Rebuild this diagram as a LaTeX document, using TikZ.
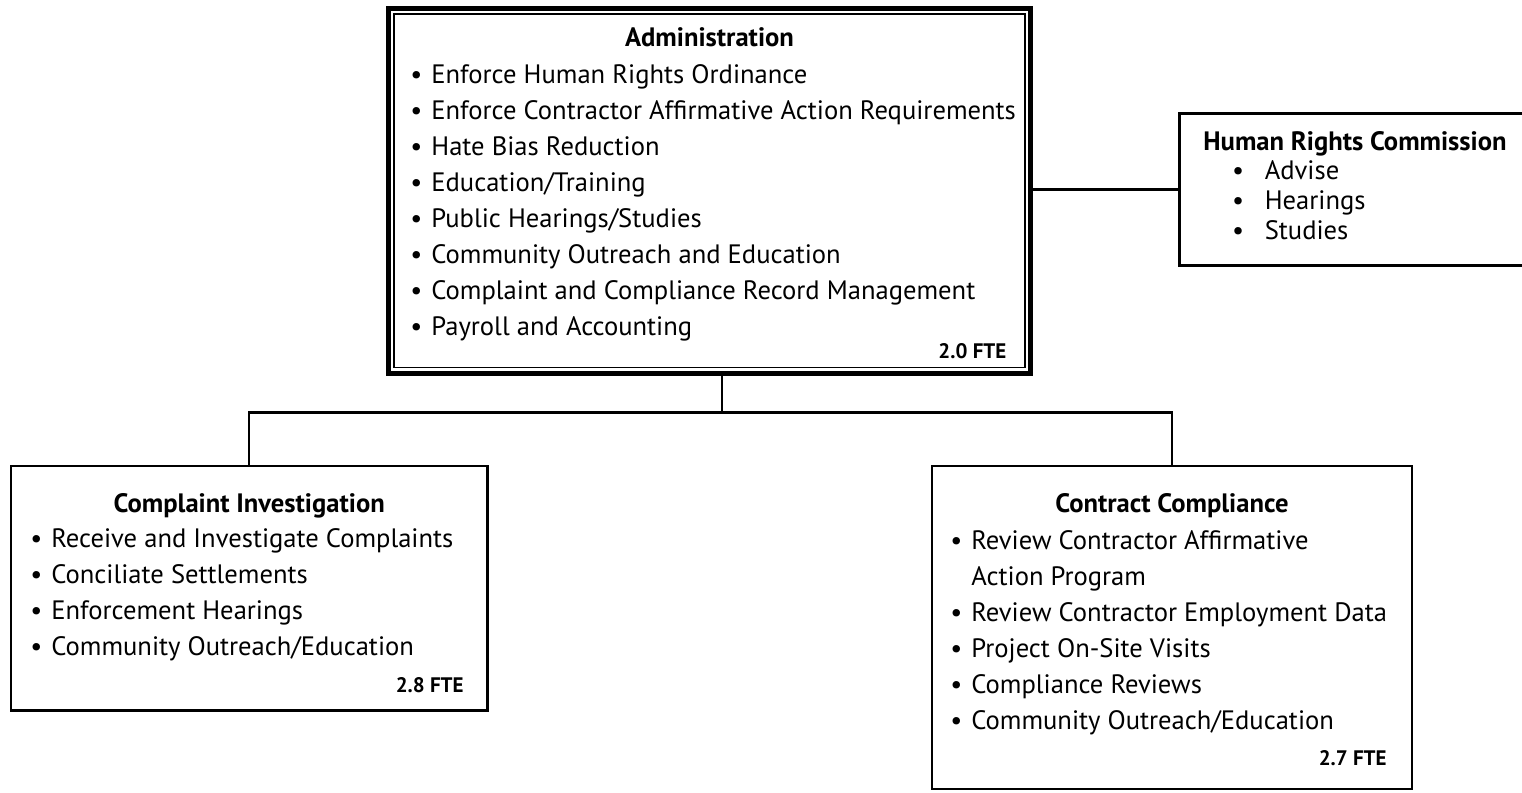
\documentclass[tikz,border=0pt]{standalone}
\usepackage{fontspec}
\setmainfont{PT Sans}

\newcommand\bodyfont{\fontsize{13.3}{18}\selectfont}
\newcommand\ftefont{\fontsize{10.5}{12}\selectfont\bfseries}
\newcommand\bul[1][10.5pt]{\makebox[#1][l]{\textbullet}}

\tikzset{
  unit box/.style = {draw, line width=1.3pt, inner sep=0pt, outer sep=0pt},
  box title/.style = {font=\bodyfont\bfseries, anchor=base, inner sep=0pt},
  box list/.style = {font=\bodyfont, align=left, anchor=base west, inner sep=0pt},
  box fte/.style = {font=\ftefont, anchor=base east, inner sep=0pt},
  link/.style = {line width=1.2pt}
}

\begin{document}
\begin{tikzpicture}[x=0.5pt,y=-0.5pt]
    \useasboundingbox (0,0) rectangle (1522,793);
    \clip (0,0) rectangle (1522,793);
    % boxes
    \node[unit box, line width=2.5pt, minimum width=321pt, minimum height=182.25pt] (admin) at (709.5,190.75) {};
    \draw[line width=0.9pt] ([shift={(5.5,5.5)}]admin.north west) rectangle ([shift={(-5.5,-5.5)}]admin.south east);
    \node[unit box, minimum width=190.25pt, minimum height=76pt] (hrc) at (1369.75,189.5) {};
    \node[unit box, minimum width=238.25pt, minimum height=122.25pt] (ci) at (249.25,588.25) {};
    \node[unit box, minimum width=240pt, minimum height=161.5pt] (cc) at (1172,627.5) {};
    % connectors
    \coordinate (split) at (722,412.5);
    \draw[link] (admin.south -| split) -- (split);
    \draw[link] (ci.north) |- (split) -| (cc.north);
    \draw[link] (admin.east |- hrc.west) -- (hrc.west);
    % administration (lists sit on their last baseline)
    \node[box title] (admintitle) at (709.5,46.7) {Administration};
    \node[box list] (adminlist) at (410,335) {\bul Enforce Human Rights Ordinance\\
        \bul Enforce Contractor Affirmative Action Requirements\\
        \bul Hate Bias Reduction\\
        \bul Education/Training\\
        \bul Public Hearings/Studies\\
        \bul Community Outreach and Education\\
        \bul Complaint and Compliance Record Management\\
        \bul Payroll and Accounting};
    \node[box fte] (adminfte) at (1006.7,358) {2.0 FTE};
    % human rights commission
    \node[box title, anchor=base west] (hrctitle) at (1203,150) {Human Rights Commission};
    \node[box list, font={\fontsize{13.3}{15}\selectfont}] (hrclist) at (1231.7,239.3) {\bul[12.8pt] Advise\\
        \bul[12.8pt] Hearings\\
        \bul[12.8pt] Studies};
    % complaint investigation
    \node[box title] (cititle) at (249.25,512.7) {Complaint Investigation};
    \node[box list] (cilist) at (30,655.7) {\bul Receive and Investigate Complaints\\
        \bul Conciliate Settlements\\
        \bul Enforcement Hearings\\
        \bul Community Outreach/Education};
    \node[box fte] (cifte) at (464,692.3) {2.8 FTE};
    % contract compliance
    \node[box title] (cctitle) at (1172,512.7) {Contract Compliance};
    \node[box list] (cclist) at (950,729) {\bul Review Contractor Affirmative\\
        \hspace*{10.5pt}Action Program\\
        \bul Review Contractor Employment Data\\
        \bul Project On-Site Visits\\
        \bul Compliance Reviews\\
        \bul Community Outreach/Education};
    \node[box fte] (ccfte) at (1387,765) {2.7 FTE};
\end{tikzpicture}
\end{document}
